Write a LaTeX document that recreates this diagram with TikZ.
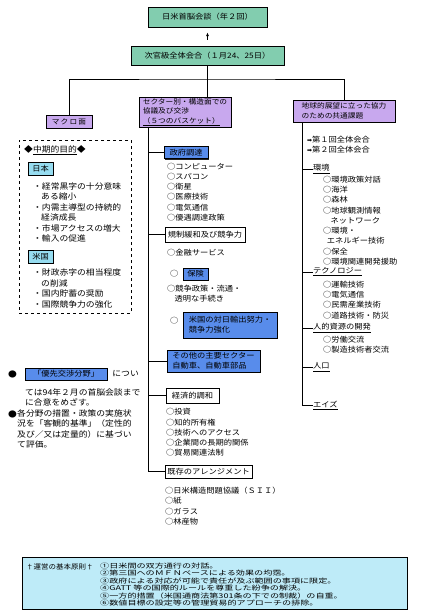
\documentclass[tikz,border=0pt]{standalone}
\usepackage{fontspec}
\setmainfont{Noto Sans CJK JP}[FakeStretch=1.1]
\newfontfamily\widejp{Noto Sans CJK JP}[FakeStretch=1.4]
\newfontfamily\symfont{DejaVu Sans}
\usepackage{xcolor}
\usepackage{tikz}
\usetikzlibrary{arrows.meta,positioning,shadows}

\definecolor{mint}{RGB}{130,205,175}
\definecolor{lilac}{RGB}{200,168,238}
\definecolor{basket}{RGB}{88,140,235}
\definecolor{sky}{RGB}{150,220,240}
\definecolor{pale}{RGB}{190,235,248}

\begin{document}
\begin{tikzpicture}[x=1pt,y=-1pt,
  font=\fontsize{7.5}{10.3}\selectfont,
  sh/.style={drop shadow={shadow xshift=1pt,shadow yshift=-1pt,opacity=.85,fill=black}},
  gbox/.style={draw,fill=mint,sh,inner sep=0pt,align=center},
  pbox/.style={draw,fill=lilac,sh,inner sep=0pt,align=left,font=\fontsize{7}{9.6}\selectfont},
  bbox/.style={draw,fill=basket,sh,inner sep=0pt,align=left},
  wbox/.style={draw,fill=white,sh,inner sep=0pt,align=left},
  cbox/.style={draw,fill=sky,inner sep=0pt},
  txt/.style={inner sep=0pt,anchor=west,align=left},
  left/.style={txt,font=\fontsize{8}{10.5}\selectfont},
  small/.style={txt,font=\widejp\fontsize{6.5}{7.4}\selectfont},
  arr/.style={-{Latex[length=4pt,width=3pt]},thick}
]
\path[use as bounding box,fill=white] (0,0) rectangle (431,614);
% top of the chart
\node[gbox,minimum width=119pt,minimum height=20pt] (summit) at (207.5,17) {日米首脳会談（年２回）};
\node[gbox,minimum width=153pt,minimum height=19pt] (vice) at (207.5,55.5) {次官級全体会合（１月24、25日）};
\draw[arr,shorten <=6pt,shorten >=5pt] (vice) -- (summit);
\coordinate (split) at (207.5,79);
\node[pbox,minimum width=46pt,minimum height=13pt,align=center] (macro) at (69,121.5) {マ\,ク\,ロ\,面};
\node[pbox,minimum width=92pt,minimum height=30pt] (sector) at (185,112) {セクター別・構造面での\\協議及び交渉\\\underline{（５つのバスケット）}};
\node[pbox,minimum width=102pt,minimum height=22pt] (global) at (344,111) {地球的展望に立った協力\\のための共通課題};
\draw (vice.south) -- (split);
\draw (macro.north) |- (split) -| (global.north);
\draw (split) -- (split |- sector.north);

% left column
\node[draw,dashed,minimum width=112pt,minimum height=173pt] (goals) at (75,226.5) {};
\node[left] (goalhead) at (24,150) {◆\underline{中期的目的}◆};
\node[cbox,minimum width=25pt,minimum height=13pt] (jp) at (40.5,168.5) {日本};
\node[left] (jplist) at (33,212.3) {・経常黒字の十分意味\\\hspace{1em}ある縮小\\・内需主導型の持続的\\\hspace{1em}経済成長\\・市場アクセスの増大\\・輸入の促進};
\node[cbox,minimum width=25pt,minimum height=13pt] (us) at (40.5,256.5) {米国};
\node[left] (uslist) at (33,288.5) {・財政赤字の相当程度\\\hspace{1em}の削減\\・国内貯蓄の奨励\\・国際競争力の強化};
\node[left] (dot1) at (8,374) {●};
\node[bbox,minimum width=82pt,minimum height=12pt] (prio) at (66,374) {「優先交渉分野」};
\node[left,right=5pt of prio] (prio2) {につい};
\node[left] (prio3) at (25,397.5) {ては94年２月の首脳会談まで\\に合意をめざす。};
\node[left] (dot2) at (8,414) {●};
\node[left] (eval) at (17,429) {各分野の措置・政策の実施状\\況を「客観的基準」（定性的\\及び／又は定量的）に基づい\\て評価。};

% middle column: five baskets
\coordinate (spine) at ([xshift=-37pt]sector.south);
\node[bbox,minimum width=44pt,minimum height=12pt] (gov) at (186,152.5) {政府調達};
\node[txt] (govlist) at (167,192) {○コンピューター\\○スパコン\\○衛星\\○医療技術\\○電気通信\\○優遇調達政策};
\node[wbox,minimum width=80pt,minimum height=15pt,align=center] (dereg) at (205,234.5) {規制緩和及び競争力};
\node[txt] (fin) at (167,253) {○金融サービス};
\node[txt] (c1) at (170,274) {○};
\node[bbox,minimum width=25pt,minimum height=12pt,align=center] (ins) at (195.5,274) {保険};
\node[txt] (compet) at (167,294) {○競争政策・流通・\\\hspace{1em}透明な手続き};
\node[txt] (c2) at (170,321) {○};
\node[bbox,minimum width=94pt,minimum height=26pt] (export) at (230,325) {米国の対日輸出努力・\\競争力強化};
\node[bbox,minimum width=93pt,minimum height=22pt] (other) at (213.5,361) {その他の主要セクター\\自動車、自動車部品};
\node[wbox,minimum width=53pt,minimum height=15pt,align=center] (harmony) at (192.5,395.5) {経済的調和};
\node[txt] (harmlist) at (166,432.5) {○投資\\○知的所有権\\○技術へのアクセス\\○企業間の長期的関係\\○貿易関連法制};
\node[wbox,minimum width=87pt,minimum height=13pt,align=center] (arrange) at (208.5,471.5) {既存のアレンジメント};
\node[txt] (arrlist) at (165,506) {○日米構造問題協議（ＳＩＩ）\\○紙\\○ガラス\\○林産物};
\draw (spine) |- (arrange.west);
\draw (spine |- gov.west) -- (gov.west);
\draw (spine |- dereg.west) -- (dereg.west);
\draw (spine |- other.west) -- (other.west);
\draw (spine |- harmony.west) -- (harmony.west);

% right column
\coordinate (rspine) at ([xshift=-42pt]global.south);
\node[txt] (meet) at (307,144.5) {{\symfont\fontsize{6}{10.3}\selectfont ➡}第１回全体会合\\{\symfont\fontsize{6}{10.3}\selectfont ➡}第２回全体会合};
\node[txt] (env) at (313,169) {\underline{環境}};
\node[txt] (envlist) at (323,220.5) {○環境政策対話\\○海洋\\○森林\\○地球観測情報\\\hspace{1em}ネットワーク\\○環境・\\\hspace{0.5em}エネルギー技術\\○保全\\○環境関連開発援助};
\node[txt] (tech) at (313,272) {\underline{テクノロジー}};
\node[txt] (techlist) at (323,300) {○運輸技術\\○電気通信\\○民需産業技術\\○道路技術・防災};
\node[txt] (hr) at (313,328) {\underline{人的資源の開発}};
\node[txt] (hrlist) at (323,345) {○労働交流\\○製造技術者交流};
\node[txt] (pop) at (313,367) {\underline{人口}};
\node[txt] (aids) at (313,405) {\underline{エイズ}};
\draw (rspine) |- (aids.west);
\draw (rspine |- env.west) -- (env.west);
\draw (rspine |- tech.west) -- (tech.west);
\draw (rspine |- hr.west) -- (hr.west);
\draw (rspine |- pop.west) -- (pop.west);

% principles
\node[draw,fill=pale,minimum width=385pt,minimum height=52pt] (rules) at (214.5,583) {};
\node[txt,font=\fontsize{6.8}{7.4}\selectfont] (rulehead) at (26,567) {†運営の基本原則†};
\node[small] (rulelist) at (100,584.5) {①日米間の双方通行の対話。\\②第三国へのＭＦＮベースによる効果の均霑。\\③政府による対応が可能で責任が及ぶ範囲の事項に限定。\\④GATT 等の国際的ルールを尊重した紛争の解決。\\⑤一方的措置（米国通商法第301条の下での制裁）の自重。\\⑥数値目標の設定等の管理貿易的アプローチの排除。};
\end{tikzpicture}
\end{document}
